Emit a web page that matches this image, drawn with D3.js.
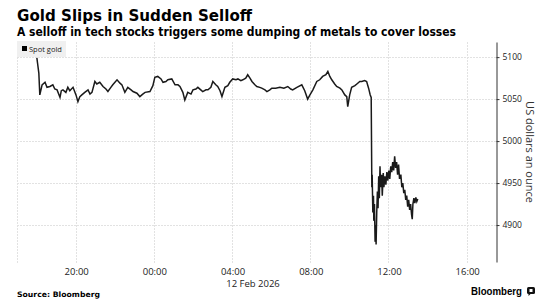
<!DOCTYPE html>
<html>
<head>
<meta charset="utf-8">
<script src="https://cdn.jsdelivr.net/npm/d3@7/dist/d3.min.js"></script>
<style>
    body { margin: 0; background: #fff; }
    svg { display: block; }
</style>
</head>
<body>
<svg id="chart" width="553" height="308"></svg>
<script>
"use strict";

// session starts 11 Feb 2026, times roll over past midnight into 12 Feb
var startDay = [2026, 1, 11];
var times = [
    "18:01", "18:03", "18:07", "18:10", "18:17", "18:26", "18:32", "18:41", "18:50", "18:56",
    "19:03", "19:12", "19:16", "19:21", "19:30", "19:36", "19:42", "19:52", "20:01", "20:07",
    "20:13", "20:19", "20:28", "20:38", "20:44", "20:50", "20:59", "21:05", "21:14", "21:24",
    "21:33", "21:39", "21:48", "21:54", "22:07", "22:16", "22:22", "22:31", "22:40", "22:50",
    "22:56", "23:08", "23:17", "23:26", "23:33", "23:48", "23:57", "00:03", "00:12", "00:22",
    "00:28", "00:37", "00:43", "00:55", "01:05", "01:14", "01:20", "01:29", "01:35", "01:44",
    "01:54", "02:00", "02:09", "02:15", "02:24", "02:30", "02:40", "02:46", "02:55", "03:01",
    "03:10", "03:16", "03:23", "03:29", "03:38", "03:47", "03:53", "04:02", "04:12", "04:18",
    "04:27", "04:33", "04:42", "04:48", "04:55", "05:01", "05:10", "05:16", "05:25", "05:31",
    "05:41", "05:47", "05:56", "06:02", "06:14", "06:27", "06:39", "06:51", "07:00", "07:06",
    "07:19", "07:34", "07:43", "07:52", "07:59", "08:08", "08:20", "08:29", "08:38", "08:48",
    "08:54", "09:00", "09:06", "09:15", "09:21", "09:31", "09:37", "09:46", "09:52", "09:55",
    "10:01", "10:07", "10:17", "10:23", "10:32", "10:38", "10:47", "10:53", "10:59", "11:04",
    "11:07", "11:09", "11:10", "11:12", "11:14", "11:15", "11:17", "11:19", "11:21", "11:22",
    "11:24", "11:26", "11:28", "11:30", "11:32", "11:34", "11:36", "11:39", "11:41", "11:44",
    "11:46", "11:49", "11:52", "11:55", "11:58", "12:01", "12:04", "12:07", "12:10", "12:13",
    "12:16", "12:19", "12:22", "12:25", "12:28", "12:31", "12:34", "12:38", "12:41", "12:44",
    "12:47", "12:50", "12:53", "12:56", "12:59", "13:02", "13:05", "13:08", "13:11", "13:13",
    "13:15", "13:18", "13:21", "13:24", "13:27", "13:30"
];
var values = [
    5099, 5093, 5081, 5055, 5067, 5070, 5064, 5065, 5067, 5062,
    5061, 5052, 5060, 5061, 5058, 5064, 5060, 5064, 5055, 5047,
    5053, 5055, 5058, 5061, 5056, 5058, 5071, 5068, 5070, 5065,
    5062, 5059, 5064, 5067, 5073, 5069, 5067, 5058, 5064, 5061,
    5059, 5057, 5053, 5056, 5058, 5059, 5066, 5076, 5077, 5074,
    5070, 5071, 5073, 5074, 5067, 5067, 5065, 5058, 5049, 5058,
    5056, 5061, 5062, 5064, 5061, 5059, 5061, 5061, 5064, 5071,
    5067, 5065, 5060, 5053, 5064, 5066, 5070, 5074, 5073, 5074,
    5072, 5073, 5075, 5079, 5075, 5071, 5067, 5065, 5064, 5063,
    5061, 5059, 5061, 5063, 5063, 5064, 5063, 5065, 5062, 5061,
    5064, 5067, 5060, 5050, 5055, 5061, 5071, 5073, 5077, 5079,
    5083, 5077, 5073, 5068, 5065, 5063, 5061, 5055, 5053, 5041,
    5055, 5064, 5066, 5068, 5071, 5071, 5072, 5071, 5063, 5055,
    5052, 4945, 4960, 4915, 4935, 4905, 4925, 4880, 4900, 4877,
    4915, 4940, 4920, 4958, 4932, 4970, 4945, 4960, 4935, 4962,
    4945, 4958, 4948, 4963, 4953, 4965, 4955, 4970, 4963, 4975,
    4965, 4982, 4968, 4975, 4960, 4972, 4955, 4960, 4945, 4950,
    4938, 4942, 4930, 4935, 4922, 4930, 4918, 4925, 4912, 4907,
    4925, 4932, 4926, 4933, 4928, 4931
];
var yTicks = [4900, 4950, 5000, 5050, 5100];
var yDomain = [4856, 5118];
var seriesName = "Spot gold";

var margin = { left: 17, right: 496, top: 42, bottom: 262 };
var uiFont = "'Open Sans', 'Noto Sans', sans-serif";
var boldFont = "'DejaVu Sans', Verdana, sans-serif";

var toDates = function (list) {
    var day = new Date(startDay[0], startDay[1], startDay[2]);
    var prev = -1;
    return list.map(function (s) {
        var mins = +s.slice(0, 2) * 60 + +s.slice(3, 5);
        if (mins < prev) {
            day = d3.timeDay.offset(day, 1);
        }
        prev = mins;
        return d3.timeMinute.offset(day, mins);
    });
};

var dates = toDates(times);
var points = dates.map(function (d, i) { return { date: d, value: values[i] }; });

var svg = d3.select("#chart");

var x = d3.scaleTime()
    .domain([new Date(2026, 1, 11, 17, 0), new Date(2026, 1, 12, 17, 30)])
    .range([margin.left, margin.right]);
var y = d3.scaleLinear()
    .domain(yDomain)
    .range([margin.bottom, margin.top]);

var xTicks = x.ticks(d3.timeHour.every(4));

// title block
svg.append("text")
    .attr("x", 17)
    .attr("y", 21)
    .attr("textLength", 235)
    .attr("lengthAdjust", "spacingAndGlyphs")
    .style("font-family", boldFont)
    .style("font-weight", "bold")
    .style("font-size", "15px")
    .style("fill", "#000")
    .text("Gold Slips in Sudden Selloff");

svg.append("text")
    .attr("x", 17)
    .attr("y", 35.5)
    .attr("textLength", 439)
    .attr("lengthAdjust", "spacingAndGlyphs")
    .style("font-family", boldFont)
    .style("font-weight", "bold")
    .style("font-size", "11.5px")
    .style("fill", "#000")
    .text("A selloff in tech stocks triggers some dumping of metals to cover losses");

// grid
var grid = svg.append("g").attr("class", "grid");
grid.selectAll(".hgrid").data(yTicks).enter()
    .append("line")
    .attr("class", "hgrid")
    .attr("x1", margin.left)
    .attr("x2", margin.right)
    .attr("y1", function (d) { return Math.round(y(d)) + 0.5; })
    .attr("y2", function (d) { return Math.round(y(d)) + 0.5; });
grid.selectAll(".vgrid").data([x.domain()[0]].concat(xTicks)).enter()
    .append("line")
    .attr("class", "vgrid")
    .attr("x1", function (d) { return Math.round(x(d)) + 0.5; })
    .attr("x2", function (d) { return Math.round(x(d)) + 0.5; })
    .attr("y1", margin.top)
    .attr("y2", margin.bottom + 1);
grid.selectAll("line")
    .style("stroke", "#e2e2e2")
    .style("stroke-width", 1)
    .style("stroke-dasharray", "2,1");

// x axis labels
svg.append("g")
    .selectAll("text").data(xTicks).enter()
    .append("text")
    .attr("x", function (d) { return x(d) + 1; })
    .attr("y", 275)
    .attr("text-anchor", "middle")
    .style("font-family", uiFont)
    .style("font-size", "9.5px")
    .style("fill", "#222")
    .text(d3.timeFormat("%H:%M"));

svg.append("text")
    .attr("x", 253)
    .attr("y", 287)
    .attr("text-anchor", "middle")
    .style("font-family", uiFont)
    .style("font-size", "9.5px")
    .style("fill", "#222")
    .text("12 Feb 2026");

// right y axis
var yAxis = svg.append("g")
    .attr("transform", "translate(" + (margin.right + 0.5) + ",0)")
    .call(d3.axisRight(y).tickValues(yTicks).tickSize(3).tickSizeOuter(0).tickPadding(3).tickFormat(d3.format("d")));
yAxis.select(".domain").style("stroke", "#333");
yAxis.selectAll(".tick line").style("stroke", "#333");
yAxis.selectAll(".tick text")
    .style("font-family", uiFont)
    .style("font-size", "8.5px")
    .style("fill", "#222");

svg.append("text")
    .attr("transform", "translate(526,152) rotate(90)")
    .attr("text-anchor", "middle")
    .style("font-family", uiFont)
    .style("font-size", "11px")
    .style("fill", "#333")
    .text("US dollars an ounce");

// series line
var line = d3.line()
    .x(function (d) { return x(d.date); })
    .y(function (d) { return y(d.value); });

svg.append("path")
    .datum(points)
    .attr("d", line)
    .style("fill", "none")
    .style("stroke", "#1a1a1a")
    .style("stroke-width", 1.5)
    .style("stroke-linejoin", "miter");

// legend
var legend = svg.append("g").attr("class", "legend");
legend.append("rect")
    .attr("x", 17)
    .attr("y", 41)
    .attr("width", 49)
    .attr("height", 16)
    .style("fill", "#f0f0f0");
legend.append("rect")
    .attr("x", 22)
    .attr("y", 46)
    .attr("width", 5)
    .attr("height", 5)
    .style("fill", "#000");
legend.append("text")
    .attr("x", 29)
    .attr("y", 52)
    .style("font-family", uiFont)
    .style("font-size", "7.5px")
    .style("fill", "#222")
    .text(seriesName);

// footer
svg.append("text")
    .attr("x", 17)
    .attr("y", 297)
    .attr("textLength", 83)
    .attr("lengthAdjust", "spacingAndGlyphs")
    .style("font-family", boldFont)
    .style("font-weight", "bold")
    .style("font-size", "7.5px")
    .style("fill", "#000")
    .text("Source: Bloomberg");

svg.append("text")
    .attr("x", 471)
    .attr("y", 295)
    .attr("textLength", 51)
    .attr("lengthAdjust", "spacingAndGlyphs")
    .style("font-family", "'Liberation Sans', Arial, sans-serif")
    .style("font-weight", "bold")
    .style("font-size", "10.5px")
    .style("fill", "#000")
    .text("Bloomberg");

var logo = svg.append("g").attr("transform", "translate(527,287)");
logo.append("rect")
    .attr("width", 8)
    .attr("height", 7)
    .attr("rx", 1.5)
    .style("fill", "#111");
logo.append("path")
    .attr("d", "M1.5,7 L1.5,9 L3.5,7 Z")
    .style("fill", "#111");
logo.append("rect")
    .attr("x", 2.5)
    .attr("y", 2)
    .attr("width", 3)
    .attr("height", 3)
    .style("fill", "#fff");
</script>
</body>
</html>
